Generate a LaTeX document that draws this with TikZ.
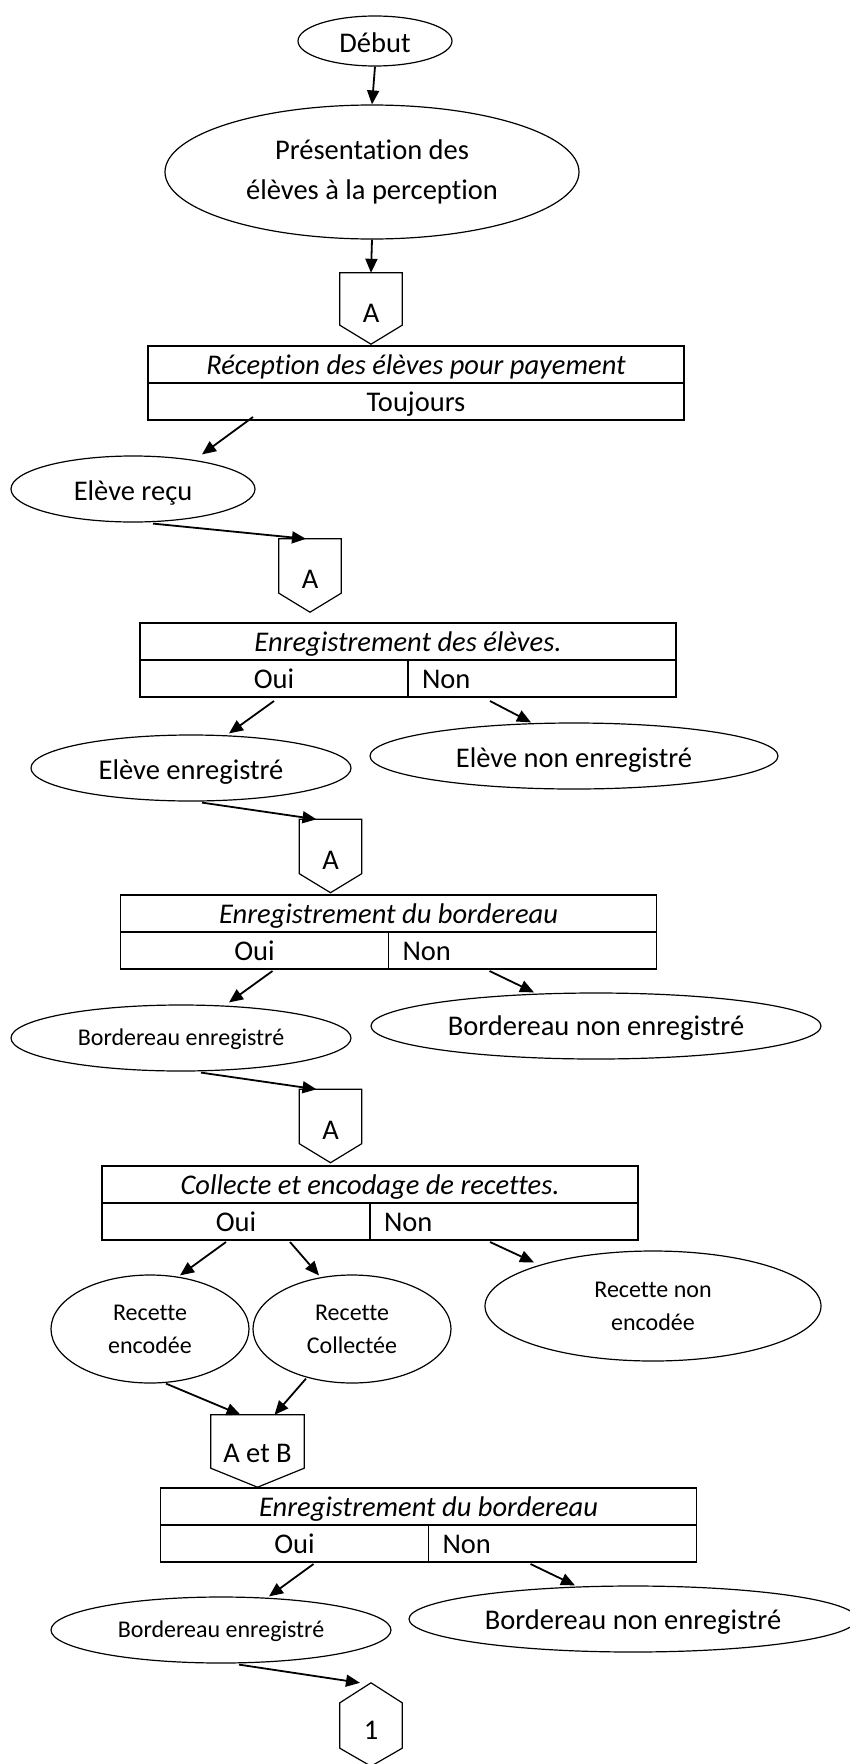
\documentclass[tikz,border=0pt]{standalone}
\usepackage{fontspec}
\setmainfont{Carlito}[Ligatures={NoCommon}]
\usetikzlibrary{shapes.geometric,arrows.meta,calc}
\newcommand{\bigtxt}{\fontsize{28.5}{40}\selectfont}
\newcommand{\smalltxt}{\fontsize{24}{33}\selectfont}
% outline of an off-page connector (pentagon pointing down)
\newcommand{\offpageoutline}[1]{%
  \draw[outline] (#1.north west) -- (#1.north east) -- ([yshift=19pt]#1.south east)
    -- (#1.south) -- ([yshift=19pt]#1.south west) -- cycle;}
\begin{document}
\begin{tikzpicture}[x=1pt,y=-1pt,
  oval/.style={draw, ellipse, line width=1.2pt, inner sep=0pt, align=center, font=\bigtxt},
  bigline/.style={oval, text height=23pt, text depth=0pt},
  smalloval/.style={oval, font=\smalltxt},
  smallline/.style={smalloval, text height=15pt, text depth=0pt},
  cell/.style={draw, line width=1.8pt, rectangle, inner sep=0pt, outer sep=0pt,
    minimum height=37pt, text height=23pt, text depth=3pt, font=\bigtxt},
  headcell/.style={cell, minimum width=536pt, font=\bigtxt\itshape},
  yescell/.style={cell, minimum width=268pt},
  nocell/.style={cell, text width=240pt, inner xsep=14pt, align=left},
  conn/.style={inner sep=0pt, minimum width=62pt, minimum height=73pt, font=\bigtxt},
  outline/.style={line width=1.2pt, line join=miter},
  arr/.style={line width=1.8pt, -{Triangle[length=14pt,width=12pt]}},
]
\useasboundingbox[fill=white] (0,0) rectangle (850,1764);

% start
\node[bigline, minimum width=154pt, minimum height=50pt] (debut) at (375,41) {Début};
\node[oval, minimum width=414pt, minimum height=134pt] (pres) at (372,172)
  {\rule{0pt}{20pt}Présentation des\\élèves à la perception};

% block 1
\node[conn, minimum height=71pt, label={[font=\bigtxt,yshift=-4.5pt]center:A}] (pA1) at (371,308.5) {};
\offpageoutline{pA1}
\node[headcell] (b1h) at (416,364.5) {Réception des élèves pour payement};
\node[cell, minimum width=536pt, anchor=north] (b1b) at (b1h.south) {Toujours};
\node[bigline, minimum width=244pt, minimum height=66pt] (recu) at (133,489) {Elève reçu};

% block 2
\node[conn, label={[font=\bigtxt,yshift=-4pt]center:A}] (pA2) at (310,575.5) {};
\offpageoutline{pA2}
\node[headcell] (b2h) at (408,641.5) {Enregistrement des élèves.};
\node[yescell, anchor=north west] (b2y) at (b2h.south west) {Oui};
\node[nocell, anchor=north west] (b2n) at (b2y.north east) {Non};
\node[bigline, minimum width=320pt, minimum height=66pt] (eleveEnr) at (191,768) {Elève enregistré};
\node[bigline, minimum width=408pt, minimum height=66pt] (eleveNon) at (574,756) {Elève non enregistré};

% block 3
\node[conn, label={[font=\bigtxt,yshift=-4pt]center:A}] (pA3) at (330.5,856) {};
\offpageoutline{pA3}
\node[headcell] (b3h) at (388.5,913.5) {Enregistrement du bordereau};
\node[yescell, anchor=north west] (b3y) at (b3h.south west) {Oui};
\node[nocell, anchor=north west] (b3n) at (b3y.north east) {Non};
\node[smallline, minimum width=340pt, minimum height=66pt] (bordEnrA) at (181,1038) {Bordereau enregistré};
\node[oval, minimum width=450pt, minimum height=66pt, text height=19pt, text depth=0pt] (bordNonA) at (596,1026) {Bordereau non enregistré};

% block 4
\node[conn, label={[font=\bigtxt,yshift=-4pt]center:A}] (pA4) at (330.5,1126) {};
\offpageoutline{pA4}
\node[headcell] (b4h) at (370,1184.5) {Collecte et encodage de recettes.};
\node[yescell, anchor=north west] (b4y) at (b4h.south west) {Oui};
\node[nocell, anchor=north west] (b4n) at (b4y.north east) {Non};
\node[smalloval, minimum width=198pt, minimum height=108pt] (recEnc) at (150,1329) {Recette\\encodée};
\node[smalloval, minimum width=198pt, minimum height=108pt] (recCol) at (352,1329) {Recette\\Collectée};
\node[smalloval, minimum width=336pt, minimum height=110pt] (recNon) at (653,1306) {Recette non\\encodée};

% block 5
\node[conn, minimum width=93pt, minimum height=72pt, label={[font=\bigtxt,yshift=-2pt]center:A et B}] (pAB) at (257.5,1451) {};
\offpageoutline{pAB}
\node[headcell] (b5h) at (428.5,1506.5) {Enregistrement du bordereau};
\node[yescell, anchor=north west] (b5y) at (b5h.south west) {Oui};
\node[nocell, anchor=north west] (b5n) at (b5y.north east) {Non};
\node[smallline, minimum width=340pt, minimum height=66pt] (bordEnrB) at (221,1630) {Bordereau enregistré};
\node[oval, minimum width=448pt, minimum height=66pt, text height=21pt, text depth=0pt] (bordNonB) at (633,1619) {Bordereau non enregistré};

% end connector (hexagon)
\node[conn, minimum height=83pt, label={[font=\bigtxt,yshift=-5.5pt]center:1}] (hex) at (371,1724.5) {};
\draw[outline] (hex.north) -- ([yshift=-20pt]hex.north east) -- ([yshift=18pt]hex.south east)
  -- (hex.south) -- ([yshift=18pt]hex.south west) -- ([yshift=-20pt]hex.north west) -- cycle;

% connectors
\draw[arr] (debut.south) -- (pres.north);
\draw[arr] (pres.south) -- (pA1.north);
\draw[arr] ($(b1b.south west)+(105,-3)$) -- ($(recu.north)+(69,-1)$);
\draw[arr] ($(recu.south)+(20,1)$) -- ($(pA2.north)+(-4,0)$);
\draw[arr] ($(b2y.south)+(0,4)$) -- ($(eleveEnr.north)+(38,-1)$);
\draw[arr] ($(b2n.south west)+(82,4)$) -- ($(eleveNon.north)+(-43,0)$);
\draw[arr] ($(eleveEnr.south)+(11,1)$) -- ($(pA3.north)+(-14,0)$);
\draw[arr] ($(b3y.south)+(18,2)$) -- ($(bordEnrA.north)+(48,-2)$);
\draw[arr] ($(b3n.south west)+(101,2)$) -- ($(bordNonA.north)+(-62,0)$);
\draw[arr] ($(bordEnrA.south)+(20,1)$) -- ($(pA4.north)+(-14,0)$);
\draw[arr] ($(b4y.south)+(-10,2)$) -- ($(recEnc.north)+(30,1)$);
\draw[arr] ($(b4y.south)+(54,2)$) -- ($(recCol.north)+(-33,1)$);
\draw[arr] ($(b4n.south west)+(120,2)$) -- ($(recNon.north)+(-119,12)$);
\draw[arr] ($(recEnc.south)+(16,0)$) -- ($(pAB.north)+(-17,0)$);
\draw[arr] ($(recCol.south)+(-46,-5)$) -- ($(pAB.north)+(17,0)$);
\draw[arr] ($(b5y.south)+(19,2)$) -- ($(bordEnrB.north)+(48,0)$);
\draw[arr] ($(b5n.south west)+(102,2)$) -- ($(bordNonB.north)+(-58,0)$);
\draw[arr] ($(bordEnrB.south)+(18,1)$) -- ($(hex.north)+(-11,0)$);
\end{tikzpicture}
\end{document}
